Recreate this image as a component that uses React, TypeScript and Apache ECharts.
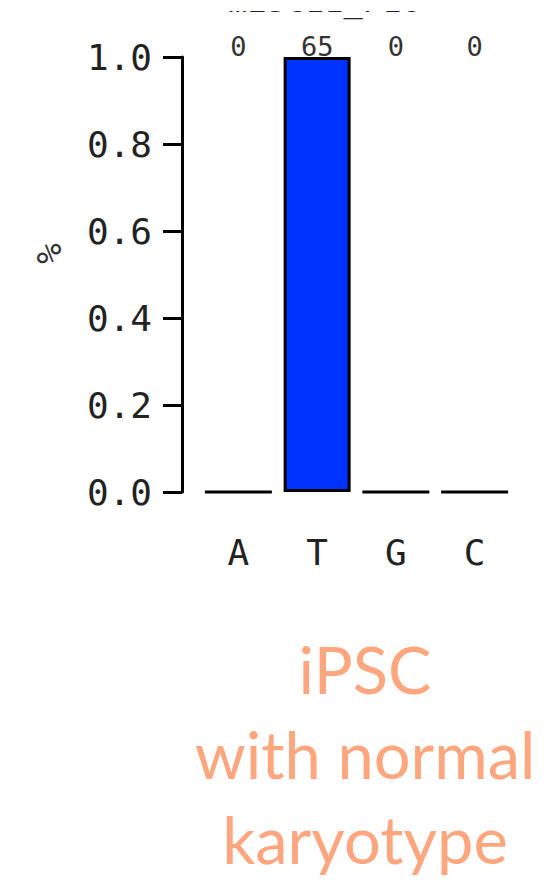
import React, { useEffect, useRef } from "react";
import * as echarts from "echarts";

const categories = ["A", "T", "G", "C"];
const proportions = [0, 1, 0, 0];
const counts = ["0", "65", "0", "0"];
const yTicks = [0, 0.2, 0.4, 0.6, 0.8, 1.0];
const titleText = "mESC11_P16";
const captionLines = ["iPSC", "with normal", "karyotype"];

const AXIS_FONT = "'DejaVu Sans Mono', monospace";

export default function App() {
  const ref = useRef<HTMLDivElement>(null);
  useEffect(() => {
    if (!ref.current) return;
    const chart = echarts.init(ref.current, undefined, { renderer: "svg" });
    chart.setOption({
      animation: false,
      backgroundColor: "#ffffff",
      grid: { left: 199, right: 38, top: 57, bottom: 390 },
      xAxis: [
        {
          type: "category",
          data: categories,
          position: "bottom",
          axisLine: { show: false },
          axisTick: { show: false },
          axisLabel: { fontSize: 36, fontFamily: AXIS_FONT, color: "#222", margin: 42 },
        },
        {
          type: "category",
          data: counts,
          position: "top",
          axisLine: { show: false },
          axisTick: { show: false },
          axisLabel: { fontSize: 27, fontFamily: AXIS_FONT, color: "#333", margin: -3 },
        },
      ],
      yAxis: {
        type: "value",
        min: 0,
        max: 1,
        interval: 0.2,
        offset: 17,
        name: "%",
        nameLocation: "middle",
        nameGap: 116,
        nameRotate: 90,
        nameTextStyle: { fontSize: 34, fontFamily: AXIS_FONT, color: "#333", padding: [0, 0, 0, 42] },
        axisLine: { show: true, lineStyle: { color: "#000", width: 3 } },
        axisTick: { show: true, length: 19, lineStyle: { color: "#000", width: 3 } },
        splitLine: { show: false },
        axisLabel: {
          fontSize: 36,
          fontFamily: AXIS_FONT,
          color: "#222",
          margin: 30,
          formatter: (v: number) => {
            const t = yTicks.find((x) => Math.abs(x - v) < 1e-9);
            return (t ?? v).toFixed(1);
          },
        },
      },
      series: [
        {
          type: "bar",
          data: proportions,
          xAxisIndex: 0,
          barWidth: 67,
          itemStyle: { color: "#0033FF", borderColor: "#000", borderWidth: 3 },
        },
      ],
      graphic: [
        {
          type: "text",
          left: 228,
          top: -15,
          style: { text: titleText, fontSize: 32, fontFamily: AXIS_FONT, fill: "#222" },
        },
        {
          type: "rect",
          shape: { x: 0, y: 0, width: 552, height: 11 },
          style: { fill: "#ffffff" },
        },
        ...captionLines.map((line, i) => ({
          type: "text",
          x: 365,
          y: 669 + i * 85,
          style: {
            text: line,
            fontSize: 65,
            fontFamily: "Lato, 'Noto Sans', sans-serif",
            fill: "#FFA67E",
            textAlign: "center",
            textVerticalAlign: "middle",
          },
        })),
      ],
    });
    return () => chart.dispose();
  }, []);
  return <div ref={ref} style={{ width: 552, height: 882, position: "absolute", left: 0, top: 0 }} />;
}
